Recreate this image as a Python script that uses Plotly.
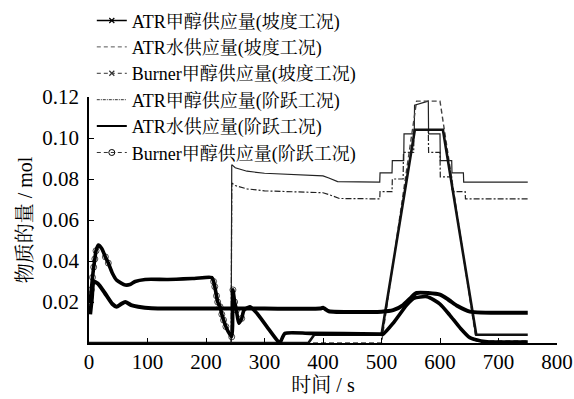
import plotly.graph_objects as go

# ---------------- data ----------------
legend_names = [
    "ATR甲醇供应量(坡度工况)",
    "ATR水供应量(坡度工况)",
    "Burner甲醇供应量(坡度工况)",
    "ATR甲醇供应量(阶跃工况)",
    "ATR水供应量(阶跃工况)",
    "Burner甲醇供应量(阶跃工况)",
]

# ATR methanol supply, ramp condition
t_atr_me_ramp = [0, 375, 385, 500, 557, 605, 662, 750]
v_atr_me_ramp = [0.0, 0.0, 0.004, 0.004, 0.104, 0.104, 0.004, 0.004]

# ATR water supply, ramp condition
t_atr_w_ramp = [0, 500, 560, 600, 662, 750]
v_atr_w_ramp = [0.0, 0.0, 0.118, 0.118, 0.001, 0.001]

# Burner methanol supply, ramp condition
t_bur_ramp = [2, 5, 8, 15, 27, 40, 47, 55, 62, 72, 84, 107, 150, 243, 300, 395,
              400, 404, 410, 500, 520, 537, 550, 560, 600, 615, 630, 651, 750]
v_bur_ramp = [0.014, 0.022, 0.030, 0.029, 0.0244, 0.019, 0.0177, 0.019, 0.020, 0.0185,
              0.0177, 0.0169, 0.0168, 0.0168, 0.0168, 0.0168, 0.0172, 0.0165, 0.0155,
              0.0153, 0.016, 0.0185, 0.022, 0.0244, 0.0236, 0.021, 0.018, 0.0153, 0.0148]

# ATR methanol supply, step condition
t_atr_me_step = [243, 244, 250, 270, 300, 350, 400, 412, 428, 497, 497.5, 518, 518.5, 537,
                 537.5, 555, 555.5, 580, 580.5, 600, 600.5, 620, 620.5, 643, 643.5, 750]
v_atr_me_step = [0.0, 0.078, 0.0768, 0.0752, 0.0742, 0.0736, 0.0733, 0.0722, 0.0705, 0.0703,
                 0.0738, 0.0738, 0.080, 0.080, 0.093, 0.093, 0.104, 0.104, 0.093, 0.093,
                 0.081, 0.081, 0.0738, 0.0738, 0.0703, 0.0703]

# ATR water supply, step condition
t_atr_w_step = [243, 244, 250, 270, 300, 350, 400, 410, 425, 497, 497.5, 518, 518.5, 538,
                538.5, 556, 556.5, 580, 580.5, 600, 600.5, 620, 620.5, 640, 640.5, 750]
v_atr_w_step = [0.0, 0.087, 0.0855, 0.0838, 0.0828, 0.0820, 0.0815, 0.0805, 0.0787, 0.0785,
                0.083, 0.083, 0.089, 0.089, 0.102, 0.102, 0.116, 0.118, 0.102, 0.102,
                0.089, 0.089, 0.083, 0.083, 0.0785, 0.0785]

# Burner methanol supply, step condition
t_bur_step = [2, 4, 6, 8, 10, 12, 16, 22, 28, 33, 40, 47, 55, 62, 70, 79, 96, 135, 180,
              210, 213, 215, 218, 220, 224, 227, 230, 234, 238, 244, 246, 249, 252, 256,
              261, 265, 275, 287, 304, 321, 326, 335, 378, 497, 503, 520, 543, 555, 578,
              600, 617, 634, 651, 670, 685, 750]
v_bur_step = [0.020, 0.026, 0.032, 0.037, 0.041, 0.045, 0.0478, 0.046, 0.042, 0.039, 0.034,
              0.0307, 0.0292, 0.0283, 0.0285, 0.030, 0.031, 0.031, 0.0315, 0.0319, 0.030,
              0.0275, 0.023, 0.020, 0.0177, 0.014, 0.0112, 0.008, 0.0055, 0.003, 0.0259,
              0.020, 0.016, 0.0097, 0.012, 0.016, 0.0177, 0.0145, 0.008, 0.0015, 0.0, 0.0047,
              0.0047, 0.0044, 0.0044, 0.0097, 0.0185, 0.0218, 0.0226, 0.019, 0.0135, 0.0075,
              0.0026, 0.001, 0.0005, 0.0005]

x_ticks = [0, 100, 200, 300, 400, 500, 600, 700, 800]
y_ticks = [0.02, 0.04, 0.06, 0.08, 0.10, 0.12]

# ---------------- figure ----------------
FONT = "Liberation Serif, 'Noto Serif CJK SC', 'Noto Sans CJK SC', serif"
fig = go.Figure()


def steep_marker_sizes(t, v, limit=0.0006, big=6):
    """circles only where the curve is steep (as in the source, where samples spread apart)"""
    out = []
    n = len(t)
    for i in range(n):
        a = max(i - 1, 0)
        b = min(i + 1, n - 1)
        s = abs(v[b] - v[a]) / max(t[b] - t[a], 1e-9)
        out.append(big if s > limit and t[i] < 300 else 0)
    return out


# plotted curves (legend shown by separate legend-only entries below)
fig.add_trace(go.Scatter(x=t_atr_w_step, y=v_atr_w_step, mode="lines",
                         line=dict(color="#222", width=1.2), showlegend=False))
fig.add_trace(go.Scatter(x=t_atr_me_step, y=v_atr_me_step, mode="lines",
                         line=dict(color="#222", width=1.2, dash="6px,2px,2px,2px"),
                         showlegend=False))
fig.add_trace(go.Scatter(x=t_atr_w_ramp, y=v_atr_w_ramp, mode="lines",
                         line=dict(color="#444", width=1.4, dash="5px,3px"),
                         showlegend=False))
fig.add_trace(go.Scatter(x=t_atr_me_ramp, y=v_atr_me_ramp, mode="lines",
                         line=dict(color="#111", width=2.6), showlegend=False))
fig.add_trace(go.Scatter(x=t_bur_ramp, y=v_bur_ramp, mode="lines",
                         line=dict(color="black", width=4, shape="spline", smoothing=0.6),
                         showlegend=False))
fig.add_trace(go.Scatter(x=t_bur_step, y=v_bur_step, mode="lines+markers",
                         line=dict(color="black", width=3.6, shape="spline", smoothing=0.6),
                         marker=dict(symbol="circle-open", color="black",
                                     size=steep_marker_sizes(t_bur_step, v_bur_step),
                                     line=dict(width=1)),
                         showlegend=False))

# legend entries
leg_styles = [
    dict(mode="lines+markers", line=dict(color="black", width=1.5),
         marker=dict(symbol="x-thin-open", size=5, line=dict(width=1.2, color="black"))),
    dict(mode="lines", line=dict(color="#555", width=1, dash="4px,3px")),
    dict(mode="lines+markers", line=dict(color="#333", width=1, dash="4px,3px"),
         marker=dict(symbol="x-thin-open", size=5, line=dict(width=1.2, color="black"))),
    dict(mode="lines", line=dict(color="#333", width=1, dash="3px,1px,1px,1px")),
    dict(mode="lines", line=dict(color="black", width=2)),
    dict(mode="lines+markers", line=dict(color="#333", width=1, dash="4px,3px"),
         marker=dict(symbol="circle-open", size=6, color="black", line=dict(width=1))),
]
for name, st in zip(legend_names, leg_styles):
    fig.add_trace(go.Scatter(x=[None], y=[None], name=name, showlegend=True, **st))

axis_common = dict(showline=True, linecolor="black", linewidth=1.5, ticks="inside",
                   ticklen=5, tickwidth=1.2, tickcolor="black", showgrid=False,
                   zeroline=False, mirror=False,
                   tickfont=dict(family=FONT, size=21, color="black"))

fig.update_xaxes(range=[0, 800], tickvals=x_ticks, ticktext=[str(v) for v in x_ticks],
                 ticklabelstandoff=-1,
                 title=dict(text="时间 / s", font=dict(family=FONT, size=20, color="black"),
                            standoff=4),
                 **axis_common)
fig.update_yaxes(range=[0, 0.12], tickvals=y_ticks, ticktext=[f"{v:.2f}" for v in y_ticks],
                 ticklabelstandoff=4,
                 title=dict(text="物质的量 / mol", font=dict(family=FONT, size=20, color="black"),
                            standoff=4),
                 **axis_common)

fig.update_layout(
    width=574, height=399,
    margin=dict(l=89, r=17, t=97, b=56, autoexpand=False),
    paper_bgcolor="white", plot_bgcolor="white",
    font=dict(family=FONT, color="black"),
    legend=dict(x=0.006, y=1.385, xanchor="left", yanchor="top",
                bgcolor="rgba(0,0,0,0)", borderwidth=0,
                font=dict(family=FONT, size=18, color="black"),
                itemwidth=30, tracegroupgap=0),
)

fig.write_html("out.html")
